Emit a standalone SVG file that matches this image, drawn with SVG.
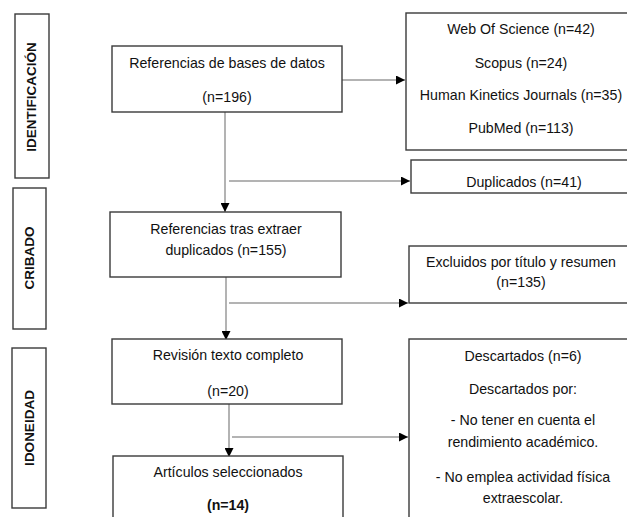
<svg xmlns="http://www.w3.org/2000/svg" width="627" height="517" viewBox="0 0 627 517">
<defs>
<marker id="arr" markerUnits="userSpaceOnUse" markerWidth="9" markerHeight="9" viewBox="0 0 9 9" refX="9" refY="4.5" orient="auto">
<path d="M0,0 L9,4.5 L0,9 Z" fill="#000"/>
</marker>
<style>
.box{fill:#fff;stroke:#3a3a3a;stroke-width:1.4}
.t{font-family:"Liberation Sans",Arial,sans-serif;font-size:14.2px;fill:#111;text-anchor:middle}
.b{font-weight:bold}
.lab{font-family:"Liberation Sans",Arial,sans-serif;font-size:13.5px;font-weight:bold;fill:#111;text-anchor:middle}
.c{fill:none;stroke:#9a9a9a;stroke-width:1.5}
.ca{fill:none;stroke:#9a9a9a;stroke-width:1.5;marker-end:url(#arr)}
</style>
</defs>
<rect width="627" height="517" fill="#fff"/>

<g id="label-identificacion">
<rect class="box" x="15" y="14" width="34" height="164"/>
<text class="lab" transform="translate(36,97) rotate(-90)">IDENTIFICACIÓN</text>
</g>
<g id="label-cribado">
<rect class="box" x="13" y="188" width="33" height="141"/>
<text class="lab" transform="translate(34,258) rotate(-90)">CRIBADO</text>
</g>
<g id="label-idoneidad">
<rect class="box" x="12" y="348" width="34" height="160"/>
<text class="lab" transform="translate(34,428) rotate(-90)">IDONEIDAD</text>
</g>

<g id="connectors">
<line class="ca" x1="342" y1="80" x2="405" y2="80"/>
<line class="ca" x1="225" y1="112" x2="225" y2="212"/>
<line class="ca" x1="229" y1="181" x2="410" y2="181"/>
<line class="ca" x1="226" y1="277" x2="226" y2="340"/>
<line class="ca" x1="229" y1="303" x2="408" y2="303"/>
<line class="ca" x1="229" y1="404" x2="229" y2="457"/>
<line class="ca" x1="232" y1="437" x2="408" y2="437"/>
</g>

<g id="n-referencias">
<rect class="box" x="112" y="46" width="230" height="66"/>
<text class="t" x="227" y="68">Referencias de bases de datos</text>
<text class="t" x="227" y="102">(n=196)</text>
</g>
<g id="n-fuentes">
<rect class="box" x="406" y="13" width="230" height="137"/>
<text class="t" x="521" y="34">Web Of Science (n=42)</text>
<text class="t" x="521" y="68">Scopus (n=24)</text>
<text class="t" x="521" y="100">Human Kinetics Journals (n=35)</text>
<text class="t" x="521" y="133">PubMed (n=113)</text>
</g>
<g id="n-duplicados">
<rect class="box" x="411" y="160" width="225" height="33"/>
<text class="t" x="524" y="187">Duplicados (n=41)</text>
</g>
<g id="n-tras-duplicados">
<rect class="box" x="110" y="212" width="231" height="65"/>
<text class="t" x="226" y="234">Referencias tras extraer</text>
<text class="t" x="226" y="255">duplicados (n=155)</text>
</g>
<g id="n-excluidos">
<rect class="box" x="409" y="246" width="227" height="57"/>
<text class="t" x="521" y="267">Excluidos por título y resumen</text>
<text class="t" x="521" y="287">(n=135)</text>
</g>
<g id="n-revision">
<rect class="box" x="112" y="339" width="230" height="65"/>
<text class="t" x="228" y="360">Revisión texto completo</text>
<text class="t" x="228" y="396">(n=20)</text>
</g>
<g id="n-descartados">
<rect class="box" x="409" y="339" width="227" height="190"/>
<text class="t" x="523" y="361">Descartados (n=6)</text>
<text class="t" x="523" y="394">Descartados por:</text>
<text class="t" x="523" y="425">- No tener en cuenta el</text>
<text class="t" x="523" y="447">rendimiento académico.</text>
<text class="t" x="523" y="482">- No emplea actividad física</text>
<text class="t" x="523" y="503">extraescolar.</text>
</g>
<g id="n-seleccionados">
<rect class="box" x="113" y="456" width="230" height="70"/>
<text class="t" x="228" y="477">Artículos seleccionados</text>
<text class="t b" x="228" y="510">(n=14)</text>
</g>
</svg>
